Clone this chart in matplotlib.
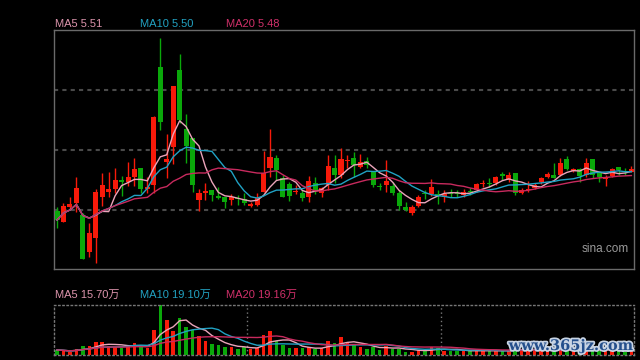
import numpy as np
import pandas as pd
import matplotlib
matplotlib.use("Agg")
import matplotlib.pyplot as plt
import matplotlib.patheffects as pe

# daily candles (price), red = up, green = down
opens = [5.295, 5.24, 5.315, 5.335, 5.275, 5.09, 5.16, 5.365, 5.39, 5.405,
         5.45, 5.44, 5.465, 5.51, 5.405, 5.425, 6.015, 5.54, 5.615, 6.00,
         5.705, 5.66, 5.35, 5.385, 5.40, 5.37, 5.365, 5.35, 5.36, 5.355,
         5.322, 5.325, 5.39, 5.51, 5.56, 5.46, 5.43, 5.389, 5.385, 5.365,
         5.435, 5.385, 5.425, 5.51, 5.475, 5.545, 5.56, 5.515, 5.545, 5.495,
         5.419, 5.425, 5.42, 5.385, 5.315, 5.285, 5.32, 5.385, 5.38, 5.38,
         5.365, 5.385, 5.384, 5.375, 5.394, 5.40, 5.431, 5.435, 5.435, 5.478,
         5.45, 5.485, 5.385, 5.401, 5.41, 5.44, 5.465, 5.475, 5.475, 5.555,
         5.495, 5.505, 5.475, 5.555, 5.49, 5.455, 5.47, 5.515, 5.495, 5.49]
closes = [5.25, 5.32, 5.33, 5.41, 5.055, 5.185, 5.39, 5.425, 5.405, 5.45,
          5.44, 5.465, 5.505, 5.405, 5.415, 5.765, 5.74, 5.555, 5.92, 5.75,
          5.62, 5.425, 5.385, 5.395, 5.375, 5.36, 5.34, 5.365, 5.355, 5.335,
          5.328, 5.36, 5.485, 5.565, 5.50, 5.365, 5.37, 5.394, 5.36, 5.445,
          5.40, 5.41, 5.52, 5.475, 5.555, 5.55, 5.525, 5.54, 5.525, 5.425,
          5.415, 5.445, 5.385, 5.32, 5.30, 5.315, 5.365, 5.381, 5.415, 5.375,
          5.38, 5.381, 5.38, 5.39, 5.39, 5.43, 5.435, 5.431, 5.465, 5.472,
          5.475, 5.385, 5.40, 5.405, 5.425, 5.46, 5.48, 5.46, 5.535, 5.505,
          5.505, 5.47, 5.535, 5.475, 5.465, 5.465, 5.505, 5.50, 5.49, 5.505]
highs = [5.315, 5.335, 5.365, 5.465, 5.285, 5.235, 5.405, 5.485, 5.49, 5.51,
         5.47, 5.54, 5.56, 5.51, 5.465, 5.77, 6.16, 5.68, 5.92, 6.08,
         5.78, 5.66, 5.405, 5.435, 5.40, 5.415, 5.365, 5.38, 5.375, 5.385,
         5.34, 5.385, 5.595, 5.705, 5.575, 5.475, 5.44, 5.425, 5.40, 5.47,
         5.465, 5.415, 5.575, 5.575, 5.61, 5.575, 5.59, 5.58, 5.565, 5.495,
         5.435, 5.55, 5.44, 5.40, 5.34, 5.325, 5.375, 5.40, 5.455, 5.40,
         5.40, 5.405, 5.40, 5.405, 5.41, 5.435, 5.45, 5.46, 5.47, 5.49,
         5.49, 5.485, 5.41, 5.445, 5.435, 5.465, 5.49, 5.535, 5.56, 5.57,
         5.51, 5.51, 5.56, 5.555, 5.49, 5.475, 5.51, 5.515, 5.51, 5.52]
lows = [5.21, 5.24, 5.30, 5.29, 5.055, 5.065, 5.035, 5.32, 5.365, 5.385,
        5.37, 5.42, 5.42, 5.385, 5.385, 5.385, 5.70, 5.46, 5.53, 5.735,
        5.535, 5.39, 5.295, 5.35, 5.345, 5.355, 5.31, 5.325, 5.325, 5.325,
        5.313, 5.32, 5.39, 5.465, 5.45, 5.365, 5.345, 5.38, 5.345, 5.34,
        5.38, 5.365, 5.40, 5.435, 5.46, 5.51, 5.465, 5.51, 5.51, 5.415,
        5.40, 5.39, 5.375, 5.30, 5.295, 5.275, 5.315, 5.355, 5.37, 5.33,
        5.34, 5.365, 5.365, 5.365, 5.375, 5.39, 5.415, 5.415, 5.425, 5.45,
        5.44, 5.375, 5.38, 5.39, 5.405, 5.43, 5.46, 5.46, 5.47, 5.50,
        5.49, 5.44, 5.465, 5.46, 5.44, 5.42, 5.465, 5.475, 5.475, 5.49]
# volume in 万
volumes = [20, 17, 13, 23, 36, 36, 53, 53, 36, 33,
           29, 36, 49, 33, 27, 100, 200, 140, 97, 149,
           113, 100, 76, 56, 44, 40, 33, 33, 25, 33,
           23, 27, 80, 97, 56, 40, 27, 27, 27, 33,
           23, 27, 56, 47, 73, 49, 39, 33, 24, 33,
           21, 37, 24, 25, 13, 13, 20, 17, 33, 29,
           17, 17, 17, 17, 17, 17, 17, 17, 17, 17,
           17, 36, 18, 17, 20, 19, 17, 18, 22, 20,
           24, 22, 25, 24, 20, 17, 16, 15, 14, 16]

price_labels = ["MA5 5.51", "MA10 5.50", "MA20 5.48"]
vol_labels = ["MA5 15.70万", "MA10 19.10万", "MA20 19.16万"]
ma_windows = [5, 10, 20]

RED = "#f81a0a"
GREEN = "#0aa80a"
ma_colors = ["#eba4ba", "#20a2c4", "#c82a5e"]
label_colors = ["#dc94ac", "#22a2c2", "#d0306a"]
font = ["Liberation Sans", "Noto Sans CJK SC"]

df = pd.DataFrame({"open": opens, "close": closes, "high": highs,
                   "low": lows, "vol": volumes})
x = np.arange(len(df))
up = df["close"] >= df["open"]
colors = np.where(up, RED, GREEN)

fig = plt.figure(figsize=(6.4, 3.6), dpi=100, facecolor="black")
ax = fig.add_axes([54 / 640, 1 - 268.5 / 360, 580 / 640, 239 / 360])
axv = fig.add_axes([54 / 640, 1 - 355 / 360, 580 / 640, 50 / 360])

# price panel
ax.set_facecolor("black")
for y in [5.3, 5.6, 5.9]:
    ax.axhline(y, color="#4a4a4a", lw=1.5, ls=(0, (2, 2)), zorder=0)
ax.vlines(x, df["low"], df["high"], colors=colors, lw=1, zorder=2)
body = np.maximum((df["close"] - df["open"]).abs(), 0.004)
ax.bar(x, body, bottom=np.minimum(df["open"], df["close"]), width=0.78,
       color=colors, zorder=3)
for w, c in zip(ma_windows, ma_colors):
    ax.plot(x, df["close"].rolling(w, min_periods=1).mean(), color=c,
            lw=1, zorder=4)
ax.set_xlim(-0.47, 89.4)
ax.set_ylim(5.0075, 6.2025)
ax.set_xticks([])
ax.set_yticks([])
for s in ax.spines.values():
    s.set_color("#6a6a6a")
    s.set_linewidth(1)

# volume panel
axv.set_facecolor("black")
axv.bar(x, df["vol"], width=0.55, color=colors, zorder=2)
for w, c in zip(ma_windows, ma_colors):
    axv.plot(x, df["vol"].rolling(w, min_periods=1).mean(), color=c,
             lw=1, zorder=3)
for xv in [29.5, 59.5]:
    axv.axvline(xv, color="#777777", lw=1, ls=(0, (1, 2)), zorder=1)
axv.set_xlim(-0.47, 89.4)
axv.set_ylim(0, 200)
axv.set_xticks([])
axv.set_yticks([])
for s in axv.spines.values():
    s.set_color("#777777")
    s.set_linewidth(1)
    s.set_linestyle((0, (1, 2)))

# labels
for px, t, c in zip([55, 140.5, 225.5], price_labels, label_colors):
    fig.text(px / 640, 1 - 24 / 360, t, color=c, fontsize=8,
             family=font, va="center", ha="left")
for px, t, c in zip([55, 140.5, 225.5], vol_labels, label_colors):
    fig.text(px / 640, 1 - 295 / 360, t, color=c, fontsize=8,
             family=font, va="center", ha="left")
fig.text(582 / 640, 1 - 249 / 360, "sina.com", color="#9a9a9a",
         fontsize=8.5, family=font, va="center", ha="left")
fig.text(571 / 640, 1 - 346 / 360, "www.365jz.com", color="#244f8c",
         fontsize=10.5, family="DejaVu Serif", weight="bold",
         va="center", ha="center",
         path_effects=[pe.withStroke(linewidth=2.5, foreground="#c8d4e4")])

fig.savefig("out.png", dpi=100, facecolor="black")
